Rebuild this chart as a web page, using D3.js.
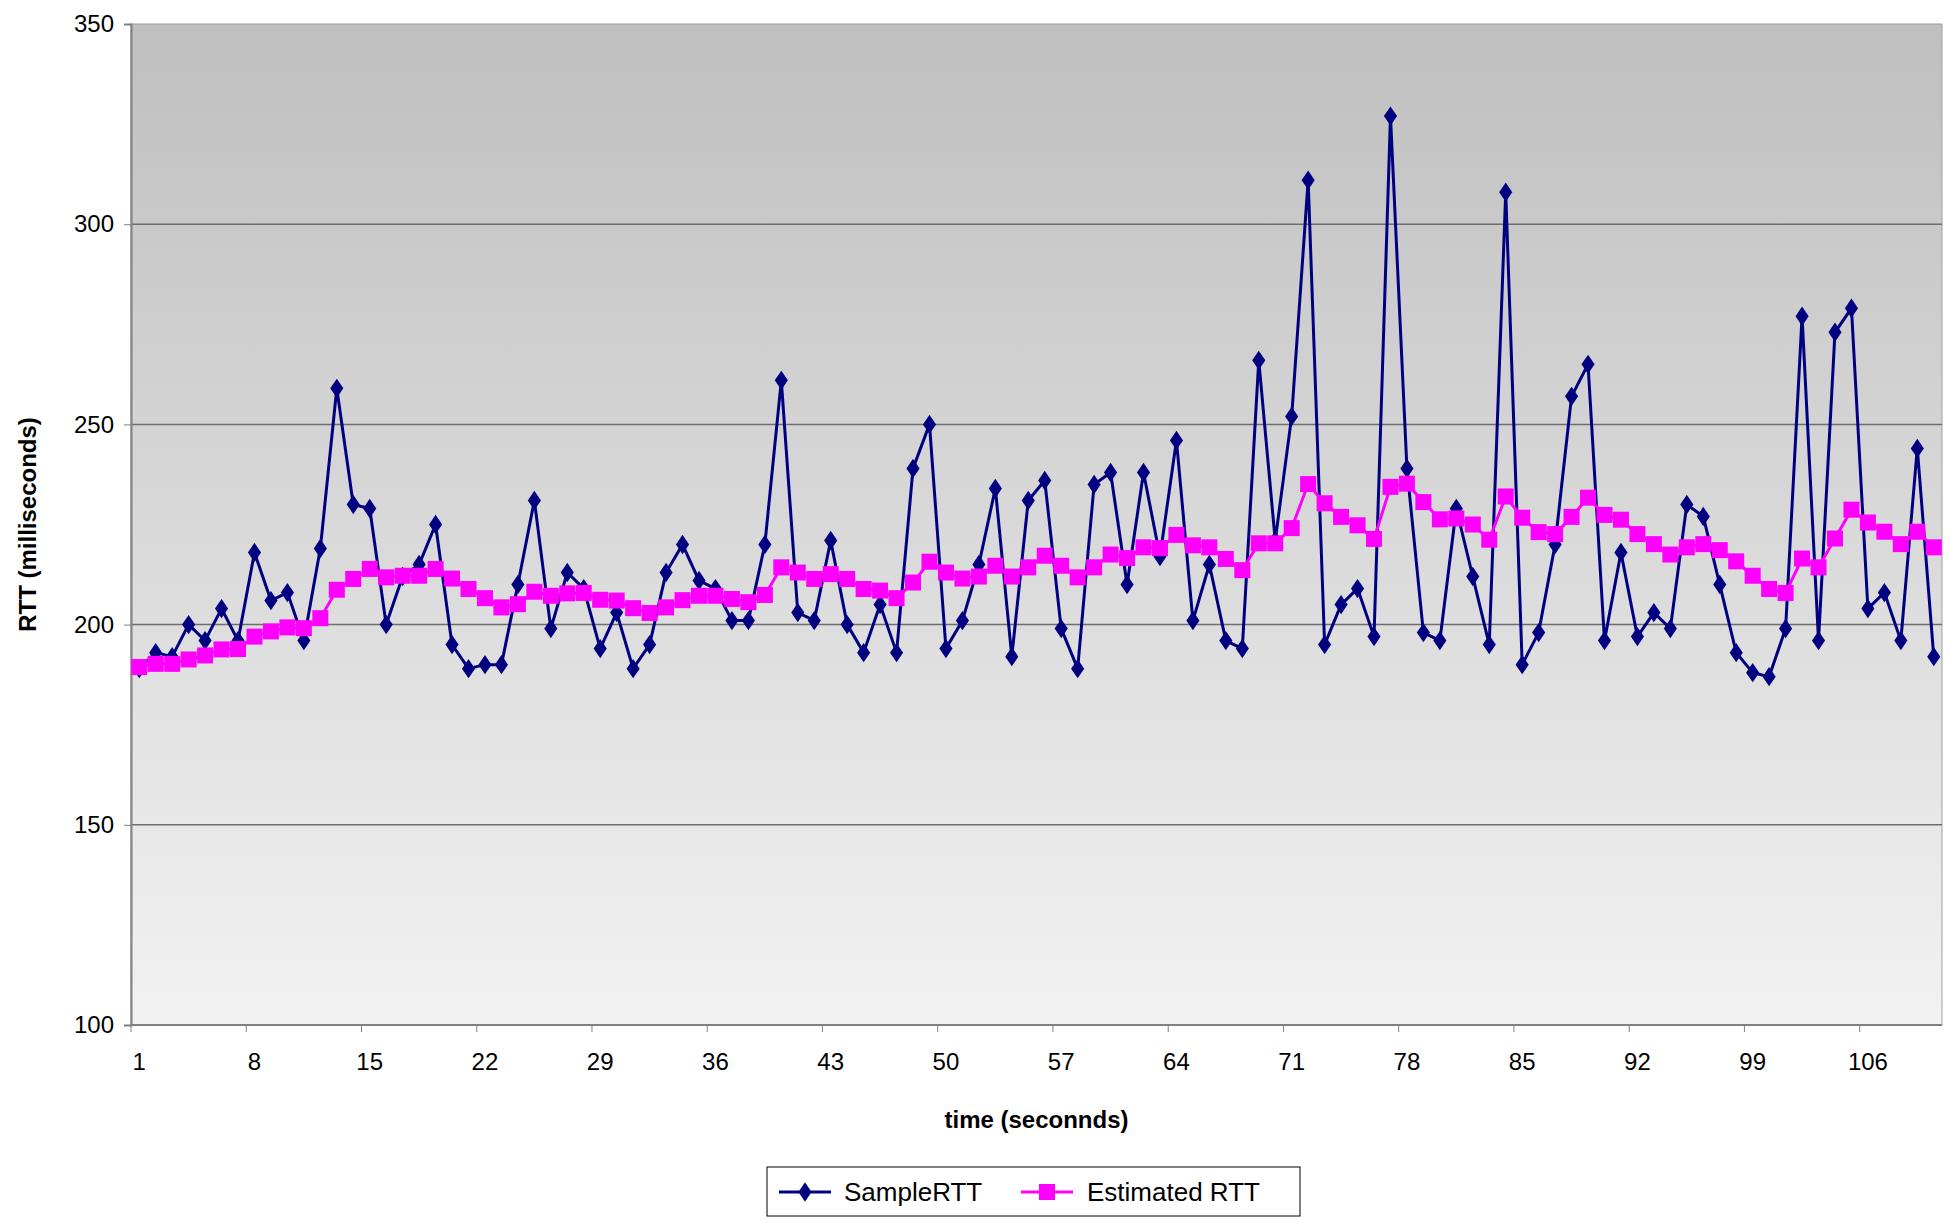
<!DOCTYPE html>
<html>
<head>
  <meta charset="utf-8">
  <title>RTT</title>
  <style>
    body { margin: 0; background: #fff; }
    text { font-family: "Liberation Sans", Arial, sans-serif; }
  </style>
</head>
<body>
  <svg width="1950" height="1222"></svg>
  <script src="https://d3js.org/d3.v7.min.js"></script>
  <script>

  // data
  var sampleRTT = [189,193,192,200,196,204,196,218,206,208,196,219,259,230,229,200,212,215,225,195,
    189,190,190,210,231,199,213,209,194,203,189,195,213,220,211,209,201,201,220,261,
    203,201,221,200,193,205,193,239,250,194,201,215,234,192,231,236,199,189,235,238,
    210,238,217,246,201,215,196,194,266,221,252,311,195,205,209,197,327,239,198,196,
    229,212,195,308,190,198,220,257,265,196,218,197,203,199,230,227,210,193,188,187,
    199,277,196,273,279,204,208,196,244,192];
  var estimatedRTT = [189.4,190.2,190.2,191.3,192.3,193.8,193.9,197,198.3,199.3,199.1,201.6,208.7,211.4,213.9,211.8,212.2,212.2,213.9,211.5,
    208.9,206.6,204.3,205.1,208.2,207.2,207.8,207.9,206.2,206,204.1,202.9,204.3,206.1,207.2,207.2,206.4,205.6,207.4,214.3,
    213,211.4,212.6,211.4,208.9,208.5,206.6,210.5,215.7,213,211.5,212,214.7,212,214.3,217.2,214.7,211.8,214.3,217.5,
    216.6,219.3,219.1,222.4,219.8,219.3,216.4,213.6,220.3,220.3,224.1,235.1,230.3,226.9,224.8,221.4,234.4,235.2,230.6,226.3,
    226.5,225,221.2,232,226.7,223.1,222.6,226.9,231.7,227.4,226.2,222.6,220.1,217.5,219.3,220.1,218.6,215.8,212.2,208.9,
    207.9,216.5,214.3,221.5,228.7,225.5,223.2,220.1,223.2,219.3];
  var times = d3.range(1, sampleRTT.length + 1);
  var xTickLabels = times.filter(function(t) { return (t - 1) % 7 === 0; });
  var yTicks = [100, 150, 200, 250, 300, 350];

  var svg = d3.select("svg");
  var pLeft = 131, pRight = 1942, pTop = 24, pBottom = 1025;

  var x = d3.scaleBand().domain(times).range([pLeft, pRight]);
  var y = d3.scaleLinear().domain([100, 350]).range([pBottom, pTop]);
  var cx = function(t) { return x(t) + x.bandwidth() / 2; };

  var grad = svg.append("defs").append("linearGradient")
    .attr("id", "bg").attr("x1", 0).attr("y1", 0).attr("x2", 0).attr("y2", 1);
  grad.append("stop").attr("offset", "0%").attr("stop-color", "#bfbfbf");
  grad.append("stop").attr("offset", "100%").attr("stop-color", "#f2f2f2");

  svg.append("rect").attr("x", pLeft).attr("y", pTop)
    .attr("width", pRight - pLeft).attr("height", pBottom - pTop)
    .attr("fill", "url(#bg)").attr("stroke", "#a0a0a0");

  // gridlines
  svg.append("g").selectAll("line").data(yTicks.slice(1, -1)).enter().append("line")
    .attr("x1", pLeft).attr("x2", pRight)
    .attr("y1", function(d) { return y(d); }).attr("y2", function(d) { return y(d); })
    .attr("stroke", "#6e6e6e").attr("stroke-width", 1.5);

  // y axis
  var yAxis = svg.append("g").attr("transform", "translate(" + pLeft + ",0)")
    .call(d3.axisLeft(y).tickValues(yTicks).tickSize(7).tickPadding(10));
  yAxis.select(".domain").attr("stroke", "#808080").attr("stroke-width", 2);
  yAxis.selectAll(".tick line").attr("stroke", "#808080");
  yAxis.selectAll("text").attr("font-size", 24).attr("fill", "#000").attr("font-family", "Liberation Sans, Arial, sans-serif");

  // x axis
  var xg = svg.append("g");
  xg.append("line").attr("x1", pLeft).attr("x2", pRight).attr("y1", pBottom).attr("y2", pBottom)
    .attr("stroke", "#808080").attr("stroke-width", 2);
  xg.selectAll("line.tk").data(xTickLabels).enter().append("line").attr("class", "tk")
    .attr("x1", function(d) { return x(d); }).attr("x2", function(d) { return x(d); })
    .attr("y1", pBottom).attr("y2", pBottom + 7).attr("stroke", "#808080");
  xg.selectAll("text").data(xTickLabels).enter().append("text")
    .attr("x", function(d) { return cx(d); }).attr("y", pBottom + 45)
    .attr("text-anchor", "middle").attr("font-size", 24).text(function(d) { return d; });

  // titles
  svg.append("text").attr("x", (pLeft + pRight) / 2).attr("y", 1128)
    .attr("text-anchor", "middle").attr("font-size", 24).attr("font-weight", "bold")
    .text("time (seconnds)");
  svg.append("text").attr("transform", "translate(36," + (pTop + pBottom) / 2 + ") rotate(-90)")
    .attr("text-anchor", "middle").attr("font-size", 24).attr("font-weight", "bold")
    .text("RTT (milliseconds)");

  var line = d3.line().x(function(d, i) { return cx(times[i]); }).y(function(d) { return y(d); });

  // SampleRTT
  svg.append("path").datum(sampleRTT).attr("d", line)
    .attr("fill", "none").attr("stroke", "#000080").attr("stroke-width", 3);
  svg.append("g").selectAll("path").data(sampleRTT).enter().append("path")
    .attr("d", d3.symbol(d3.symbolDiamond, 150)())
    .attr("transform", function(d, i) { return "translate(" + cx(times[i]) + "," + y(d) + ") scale(1,0.85)"; })
    .attr("fill", "#000080");

  // Estimated RTT
  svg.append("path").datum(estimatedRTT).attr("d", line)
    .attr("fill", "none").attr("stroke", "#ff00ff").attr("stroke-width", 3);
  svg.append("g").selectAll("rect").data(estimatedRTT).enter().append("rect")
    .attr("x", function(d, i) { return cx(times[i]) - 8; })
    .attr("y", function(d) { return y(d) - 8; })
    .attr("width", 16).attr("height", 16).attr("fill", "#ff00ff");

  // legend
  var lg = svg.append("g").attr("transform", "translate(767,1167)");
  lg.append("rect").attr("width", 533).attr("height", 49).attr("fill", "#fff").attr("stroke", "#000");
  lg.append("line").attr("x1", 12).attr("x2", 64).attr("y1", 25).attr("y2", 25).attr("stroke", "#000080").attr("stroke-width", 3);
  lg.append("path").attr("d", d3.symbol(d3.symbolDiamond, 150)())
    .attr("transform", "translate(38,25) scale(1,0.85)").attr("fill", "#000080");
  lg.append("text").attr("x", 77).attr("y", 34).attr("font-size", 26).text("SampleRTT");
  lg.append("line").attr("x1", 254).attr("x2", 306).attr("y1", 25).attr("y2", 25).attr("stroke", "#ff00ff").attr("stroke-width", 3);
  lg.append("rect").attr("x", 272).attr("y", 17).attr("width", 16).attr("height", 16).attr("fill", "#ff00ff");
  lg.append("text").attr("x", 320).attr("y", 34).attr("font-size", 26).text("Estimated RTT");
  </script>
</body>
</html>
